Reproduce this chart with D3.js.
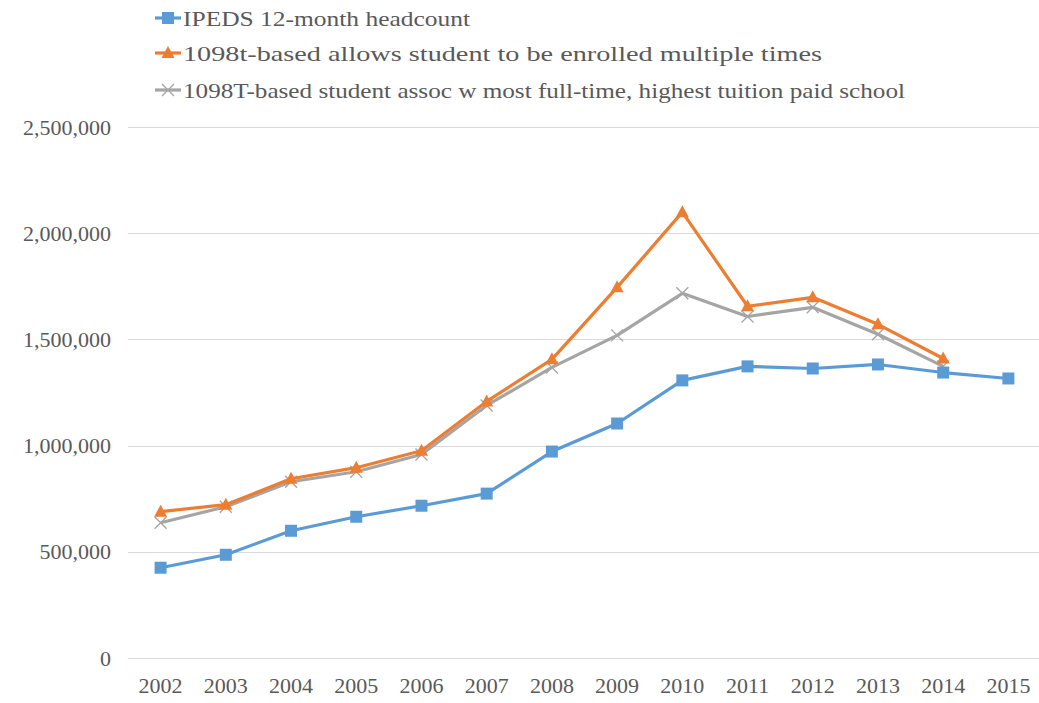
<!DOCTYPE html>
<html>
<head>
<meta charset="utf-8">
<style>
  body { margin: 0; background: #fff; }
  svg text { font-family: "Liberation Serif", "DejaVu Serif", serif !important; }
</style>
</head>
<body>
<script src="https://cdn.jsdelivr.net/npm/d3@7"></script>
<script>
// chart data
var years = ["2002","2003","2004","2005","2006","2007","2008","2009","2010","2011","2012","2013","2014","2015"];
var ipeds = [425000, 486000, 599000, 665000, 717000, 774000, 972000, 1104000, 1307000, 1373000, 1363000, 1382000, 1344000, 1316000];
var multi = [689000, 722000, 844000, 896000, 976000, 1208000, 1406000, 1745000, 2099000, 1656000, 1698000, 1571000, 1410000, null];
var assoc = [637000, 712000, 830000, 877000, 958000, 1189000, 1368000, 1519000, 1717000, 1608000, 1651000, 1524000, 1373000, null];
var yTicks = [0, 500000, 1000000, 1500000, 2000000, 2500000];
var seriesNames = [
  "IPEDS 12-month headcount",
  "1098t-based allows student to be enrolled multiple times",
  "1098T-based student assoc w most full-time, highest tuition paid school"
];

var W = 1039, H = 703;
var margin = {top: 127, right: 0, bottom: 45, left: 128};

var svg = d3.select("body").append("svg")
  .attr("width", W).attr("height", H);

var x = d3.scaleBand().domain(years).range([margin.left, 1041]);
var y = d3.scaleLinear().domain([0, 2500000]).range([658, 127]);

// gridlines
svg.append("g").selectAll("line").data(yTicks).enter().append("line")
  .attr("x1", margin.left).attr("x2", W)
  .attr("y1", function (d) { return Math.round(y(d)) + 0.5; })
  .attr("y2", function (d) { return Math.round(y(d)) + 0.5; })
  .attr("stroke", "#d9d9d9").attr("stroke-width", 1);

// y axis labels
var yAxis = d3.axisLeft(y).tickValues(yTicks).tickSize(0).tickPadding(0)
  .tickFormat(d3.format(","));
var gy = svg.append("g").attr("transform", "translate(111,0)").call(yAxis);
gy.select(".domain").remove();
gy.selectAll("text").style("font-size", "22px").style("fill", "#595959");

// x axis labels
var xAxis = d3.axisBottom(x).tickSize(0).tickPadding(0);
var gx = svg.append("g").attr("transform", "translate(0,677)").call(xAxis);
gx.select(".domain").remove();
gx.selectAll("text").style("font-size", "22px").style("fill", "#595959");

var series = [
  {name: seriesNames[0], values: ipeds, color: "#5b9bd5", marker: "square"},
  {name: seriesNames[1], values: multi, color: "#ed7d31", marker: "triangle"},
  {name: seriesNames[2], values: assoc, color: "#a5a5a5", marker: "cross"}
];

function cx(i) { return x(years[i]) + x.bandwidth() / 2; }

function drawMarker(g, type, color, px, py) {
  if (type === "square") {
    g.append("rect").attr("x", px - 6).attr("y", py - 6)
      .attr("width", 12).attr("height", 12).attr("fill", color);
  } else if (type === "triangle") {
    g.append("path")
      .attr("d", "M" + px + "," + (py - 7) + "L" + (px + 6.5) + "," + (py + 5) + "L" + (px - 6.5) + "," + (py + 5) + "Z")
      .attr("fill", color);
  } else {
    g.append("path")
      .attr("d", "M" + (px - 6) + "," + (py - 6) + "L" + (px + 6) + "," + (py + 6) +
                 "M" + (px + 6) + "," + (py - 6) + "L" + (px - 6) + "," + (py + 6))
      .attr("stroke", color).attr("stroke-width", 1.3).attr("fill", "none");
  }
}

// draw gray first, then orange, then blue on top
[2, 1, 0].forEach(function (k) {
  var s = series[k];
  var pts = s.values.map(function (v, i) { return {i: i, v: v}; })
    .filter(function (d) { return d.v != null; });
  var line = d3.line()
    .x(function (d) { return cx(d.i); })
    .y(function (d) { return y(d.v); });
  var g = svg.append("g");
  g.append("path").datum(pts).attr("d", line)
    .attr("fill", "none").attr("stroke", s.color)
    .attr("stroke-width", 3.2).attr("stroke-linejoin", "round");
  pts.forEach(function (d) { drawMarker(g, s.marker, s.color, cx(d.i), y(d.v)); });
});

// legend (text stretched to the reference widths)
var legendY = [18, 53, 90];
var legendLen = [287, 639, 722];
series.forEach(function (s, k) {
  var g = svg.append("g");
  var ly = legendY[k];
  g.append("line").attr("x1", 155).attr("x2", 181).attr("y1", ly).attr("y2", ly)
    .attr("stroke", s.color).attr("stroke-width", 3.2);
  drawMarker(g, s.marker, s.color, 168, ly);
  g.append("text").attr("x", 183).attr("y", ly + 8)
    .attr("textLength", legendLen[k]).attr("lengthAdjust", "spacingAndGlyphs")
    .style("font-size", "22px").style("fill", "#595959")
    .text(s.name);
});
</script>
</body>
</html>
